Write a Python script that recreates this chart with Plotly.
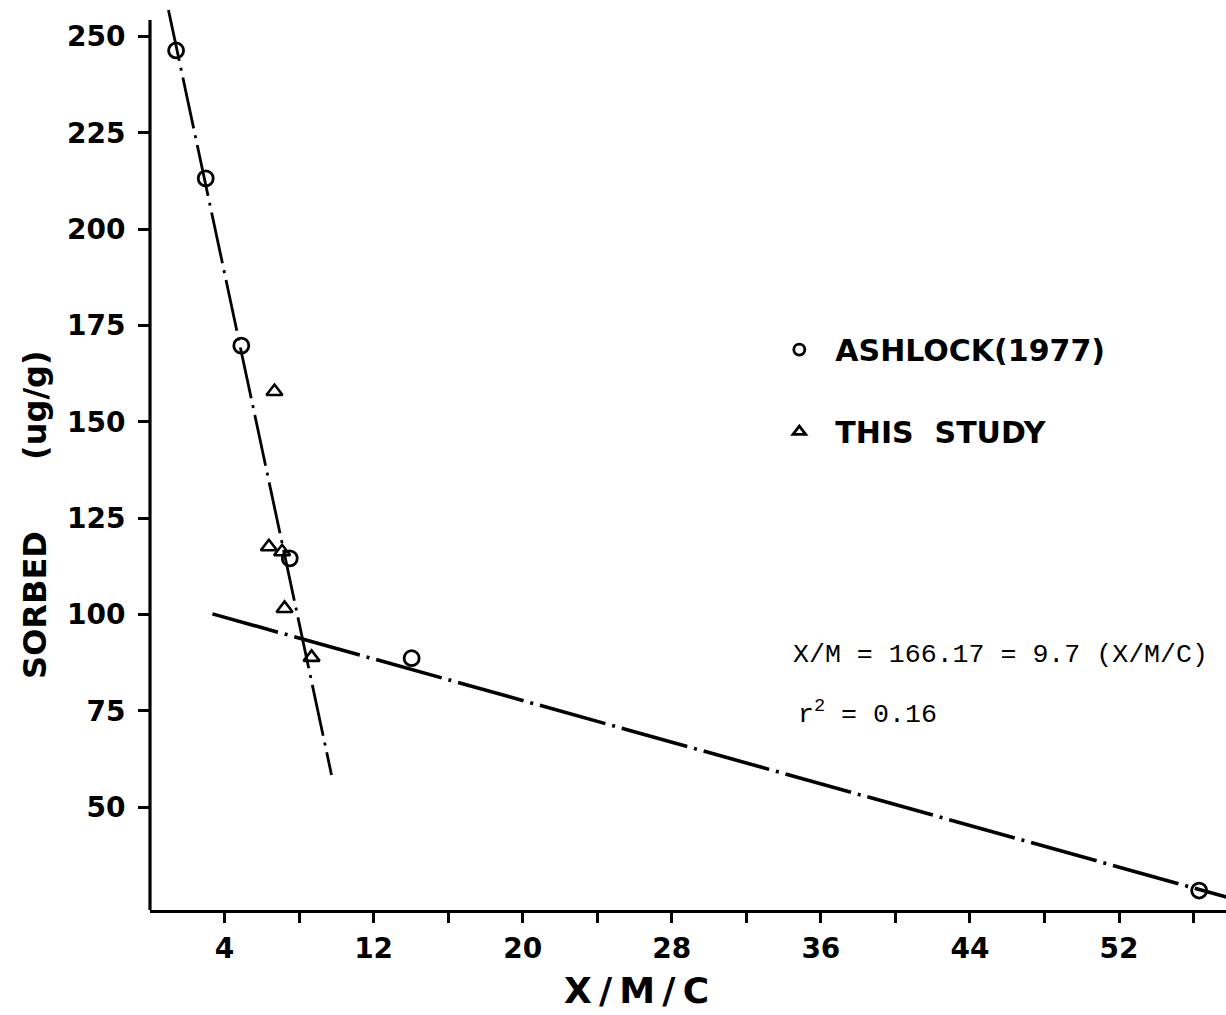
import plotly.graph_objects as go

# Ashlock (1977) observations: X/M/C versus amount sorbed (ug/g)
ashlock_x = [1.40, 2.99, 4.90, 7.50, 14.04, 56.30]
ashlock_y = [246.4, 213.2, 169.8, 114.6, 88.7, 28.4]

# Observations from this study
study_x = [6.68, 6.38, 7.09, 7.22, 8.67]
study_y = [157.9, 117.6, 116.3, 101.6, 88.9]

# End points of the two fitted lines
steep_fit_x = [0.99, 9.74]
steep_fit_y = [256.9, 58.4]
shallow_fit_x = [3.35, 57.76]
shallow_fit_y = [100.2, 26.7]

# Axis ticks
x_tick_vals = [4, 8, 12, 16, 20, 24, 28, 32, 36, 40, 44, 48, 52, 56]
x_tick_text = ["4", "", "12", "", "20", "", "28", "", "36", "", "44", "", "52", ""]
y_tick_vals = [50, 75, 100, 125, 150, 175, 200, 225, 250]

X_RANGE = [0.0, 57.74]
Y_RANGE = [23.35, 258.2]
Y_AXIS_TOP = 254.3

LETTER_FONT = "DejaVu Sans"
TYPE_FONT = "Liberation Mono"
INK = "black"

fig = go.Figure()

# fitted lines (dash-dot)
fig.add_trace(go.Scatter(
    x=steep_fit_x, y=steep_fit_y, mode="lines",
    line=dict(color=INK, width=2.8, dash="52px,7px,3px,7px"),
    showlegend=False, hoverinfo="skip",
))
fig.add_trace(go.Scatter(
    x=shallow_fit_x, y=shallow_fit_y, mode="lines",
    line=dict(color=INK, width=3.6, dash="68px,7px,3px,7px"),
    showlegend=False, hoverinfo="skip",
))

# data points
fig.add_trace(go.Scatter(
    x=ashlock_x, y=ashlock_y, mode="markers",
    marker=dict(symbol="circle-open", size=15, color=INK, line=dict(width=2.8, color=INK)),
    showlegend=False,
))
fig.add_trace(go.Scatter(
    x=study_x, y=study_y, mode="markers",
    marker=dict(symbol="triangle-up-open", size=14, color=INK, line=dict(width=2.6, color=INK)),
    showlegend=False,
))

# legend keys
fig.add_trace(go.Scatter(
    x=[None], y=[None], mode="markers", name="ASHLOCK(1977)", legendgroup="a",
    marker=dict(symbol="circle-open", size=11, color=INK, line=dict(width=2.8, color=INK)),
))
fig.add_trace(go.Scatter(
    x=[None], y=[None], mode="markers", name="THIS\u00a0\u00a0STUDY", legendgroup="b",
    marker=dict(symbol="triangle-up-open", size=11, color=INK, line=dict(width=2.8, color=INK)),
))

# vertical axis line (stops just above the 250 tick)
y_top_paper = (Y_AXIS_TOP - Y_RANGE[0]) / (Y_RANGE[1] - Y_RANGE[0])
fig.add_shape(type="line", xref="paper", yref="paper", x0=0, x1=0, y0=0, y1=y_top_paper,
              line=dict(color=INK, width=3.2), layer="above")

fig.update_layout(
    width=1226, height=1015,
    margin=dict(l=150, r=0, t=5, b=105),
    paper_bgcolor="white", plot_bgcolor="white",
    font=dict(family=LETTER_FONT, color=INK),
    showlegend=True,
    legend=dict(
        x=0.570, y=0.648, xanchor="left", yanchor="top",
        font=dict(family=LETTER_FONT, size=30, color=INK, weight="bold"),
        bgcolor="rgba(0,0,0,0)", traceorder="grouped", tracegroupgap=40,
        itemwidth=62,
    ),
    xaxis=dict(
        range=X_RANGE, showgrid=False, zeroline=False,
        showline=True, linecolor=INK, linewidth=3.2,
        tickmode="array", tickvals=x_tick_vals, ticktext=x_tick_text,
        ticks="outside", ticklen=10, tickwidth=3, tickcolor=INK,
        tickfont=dict(family=LETTER_FONT, size=28, color=INK, weight="bold"),
        ticklabelstandoff=1,
    ),
    yaxis=dict(
        range=Y_RANGE, showgrid=False, zeroline=False, showline=False,
        tickmode="array", tickvals=y_tick_vals,
        ticks="outside", ticklen=11, tickwidth=3, tickcolor=INK,
        tickfont=dict(family=LETTER_FONT, size=28, color=INK, weight="bold"),
        ticklabelstandoff=7,
    ),
    annotations=[
        dict(text="X\u2009/\u2009M\u2009/\u2009C", xref="paper", yref="paper", x=0.452, y=-0.0884,
             xanchor="center", yanchor="middle", showarrow=False,
             font=dict(family=LETTER_FONT, size=36, color=INK, weight="bold")),
        dict(text="SORBED", xref="paper", yref="paper", x=-0.107, y=0.337,
             xanchor="center", yanchor="middle", showarrow=False, textangle=-90,
             font=dict(family=LETTER_FONT, size=32, color=INK, weight="bold")),
        dict(text="(ug/g)", xref="paper", yref="paper", x=-0.107, y=0.558,
             xanchor="center", yanchor="middle", showarrow=False, textangle=-90,
             font=dict(family=LETTER_FONT, size=32, color=INK, weight="bold")),
        dict(text="X/M = 166.17 = 9.7 (X/M/C)", xref="paper", yref="paper",
             x=0.596, y=0.282, xanchor="left", yanchor="middle", showarrow=False,
             font=dict(family=TYPE_FONT, size=26.6, color=INK)),
        dict(text="r<sup>2</sup> = 0.16", xref="paper", yref="paper",
             x=0.600, y=0.2177, xanchor="left", yanchor="middle", showarrow=False,
             font=dict(family=TYPE_FONT, size=26.6, color=INK)),
    ],
)

fig.write_html("out.html")
